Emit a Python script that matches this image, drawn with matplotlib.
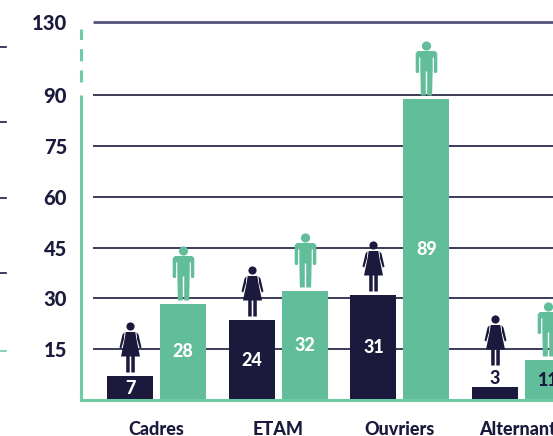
import numpy as np
import matplotlib
matplotlib.use("Agg")
import matplotlib.pyplot as plt
from matplotlib.path import Path
from matplotlib.lines import Line2D

categories = ["Cadres", "ETAM", "Ouvriers", "Alternants"]
women_labels = [7, 24, 31, 3]
men_labels = [28, 32, 89, 11]
women_heights = [7.0, 23.6, 31.0, 3.8]
men_heights = [28.4, 32.2, 88.8, 11.8]
y_ticks = [15, 30, 45, 60, 75, 90, 130]

NAVY = "#1b1a3d"
GREEN = "#62bd9a"
AXIS = "#6fcba4"
W, H = 553, 436
plt.rcParams["font.family"] = ["Lato", "DejaVu Sans"]
WEIGHT = 900

def circle(cx, cy, r):
    c = Path.unit_circle()
    return Path(c.vertices * r + [cx, cy], c.codes)

def poly(pts):
    pts = list(pts) + [pts[0]]
    return Path(pts, [Path.MOVETO] + [Path.LINETO] * (len(pts) - 2) + [Path.CLOSEPOLY])

def man_path():
    g = 4
    return Path.make_compound_path(
        circle(0, g + 49.5, 4.6),
        poly([(-8.6, g + 44.5), (8.6, g + 44.5), (10.8, g + 42.3), (10.8, g + 23.5), (9.8, g + 22.5),
              (8.2, g + 22.5), (7.4, g + 23.5), (7.4, g + 38), (6.2, g + 38), (6.2, g + 27), (5.6, g),
              (0.7, g), (0.7, g + 24), (-0.7, g + 24), (-0.7, g), (-5.6, g), (-6.2, g + 27), (-6.2, g + 38),
              (-7.4, g + 38), (-7.4, g + 23.5), (-8.2, g + 22.5), (-9.8, g + 22.5), (-10.8, g + 23.5),
              (-10.8, g + 42.3)]),
    )

def woman_path():
    g = 4
    return Path.make_compound_path(
        circle(0, g + 46, 4.1),
        poly([(-4.8, g + 40.5), (4.8, g + 40.5), (6, g + 33), (9.5, g + 16), (4.3, g + 16), (4.3, g),
              (0.8, g), (0.8, g + 16), (-0.8, g + 16), (-0.8, g), (-4.3, g), (-4.3, g + 16), (-9.5, g + 16),
              (-6, g + 33)]),
        poly([(-6, g + 40.3), (-8, g + 38), (-11, g + 25), (-9.2, g + 24), (-6.6, g + 33)]),
        poly([(6, g + 40.3), (6.6, g + 33), (9.2, g + 24), (11, g + 25), (8, g + 38)]),
    )

def marker_size(path):
    return 0.72 * 2 * np.abs(path.vertices).max()

def forward(v):
    return np.interp(v, [0, 90, 130], [0, 90, 111.7])

def inverse(v):
    return np.interp(v, [0, 90, 111.7], [0, 90, 130])

fig = plt.figure(figsize=(W / 100, H / 100), dpi=100, facecolor="white")
ax = fig.add_axes([81 / W, 36 / H, (W - 81) / W, 378 / H])
ax.set_yscale("function", functions=(forward, inverse))
ax.set_xlim((81 - 156.5) / 121.7, (W - 156.5) / 121.7)
ax.set_ylim(0, 130)
ax.patch.set_alpha(0)

x = np.arange(len(categories))
off = 26.5 / 121.7
bw = 46 / 121.7
x0 = (93 - 156.5) / 121.7
x1 = ax.get_xlim()[1]

for t in y_ticks:
    top = t == 130
    ax.plot([x0, x1], [t, t], color="#55547a" if top else NAVY, lw=2.0 if top else 1.2, zorder=1,
            clip_on=False, solid_capstyle="butt")

ax.bar(x - off, women_heights, bw, color=NAVY, zorder=2)
ax.bar(x + off, men_heights, bw, color=GREEN, zorder=2)

lift = 18 / 3.37
mp, wp = man_path(), woman_path()
for xi, h in zip(x + off, men_heights):
    ax.plot(xi, h, marker=mp, ms=marker_size(mp), color=GREEN, mew=0, zorder=3)
for xi, h, lab in zip(x - off, women_heights, women_labels):
    base = h + lift if lab < 5 else h
    ax.plot(xi, base, marker=wp, ms=marker_size(wp), color=NAVY, mew=0, zorder=3)

fs = 13
for xi, h, lab in zip(x - off, women_heights, women_labels):
    if lab < 5:
        ax.text(xi, h + 9 / 3.37, str(lab), ha="center", va="center", color=NAVY, fontsize=fs, fontweight=WEIGHT, zorder=4)
    else:
        ax.text(xi, h / 2, str(lab), ha="center", va="center", color="white", fontsize=fs, fontweight=WEIGHT, zorder=4)
for xi, h, lab in zip(x + off, men_heights, men_labels):
    ax.text(xi, h / 2, str(lab), ha="center", va="center", color=NAVY if lab < 15 else "white",
            fontsize=fs, fontweight=WEIGHT, zorder=4)

for s in ["top", "right"]:
    ax.spines[s].set_visible(False)
ax.spines["left"].set_color(AXIS)
ax.spines["left"].set_linewidth(2.2)
ax.spines["left"].set_bounds(0, 90)
ax.spines["left"].set_capstyle("butt")
ax.spines["bottom"].set_color(AXIS)
ax.spines["bottom"].set_linewidth(2.2)
ax.spines["left"].set_zorder(5)
ax.spines["bottom"].set_zorder(5)
ax.plot([ax.get_xlim()[0]] * 2, [97.3, 126.2], color=AXIS, lw=2.2, linestyle=(0, (3.95, 3.0)),
        clip_on=False, dash_capstyle="butt", zorder=5)

ax.set_yticks(y_ticks)
ax.set_yticklabels([str(t) for t in y_ticks], fontsize=14.5, fontweight=WEIGHT, color=NAVY)
ax.set_xticks(x)
ax.set_xticklabels(categories, fontsize=13, fontweight=WEIGHT, color=NAVY)
ax.minorticks_off()
ax.tick_params(axis="y", length=0, pad=10)
ax.tick_params(axis="x", length=0, pad=15)

for py, col in [(47, NAVY), (122, NAVY), (198, NAVY), (273, NAVY), (351, AXIS)]:
    fig.add_artist(Line2D([0, 6 / W], [1 - py / H] * 2, color=col, lw=1.2))

fig.savefig("out.png", dpi=100)
